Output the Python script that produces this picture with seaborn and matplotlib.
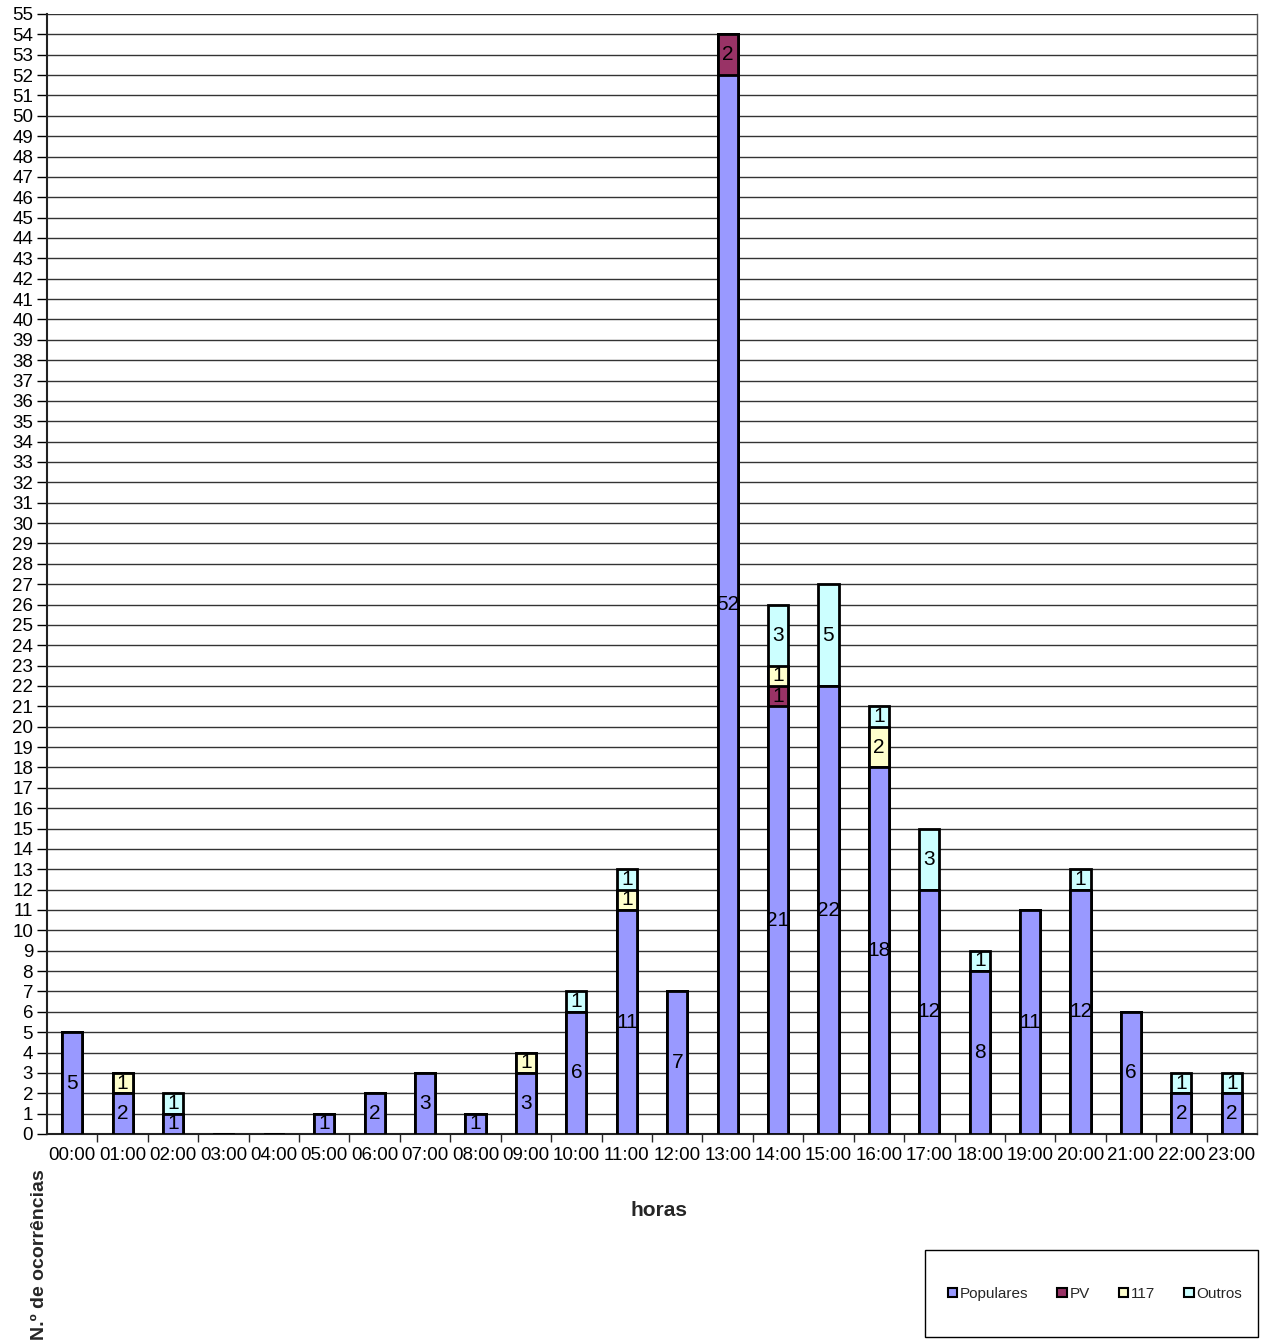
import matplotlib
matplotlib.use("Agg")
import matplotlib.pyplot as plt
from matplotlib.patches import Patch, Rectangle
import numpy as np
import pandas as pd
import seaborn as sns

# Hourly occurrence counts by source
horas = ["00:00", "01:00", "02:00", "03:00", "04:00", "05:00", "06:00", "07:00",
         "08:00", "09:00", "10:00", "11:00", "12:00", "13:00", "14:00", "15:00",
         "16:00", "17:00", "18:00", "19:00", "20:00", "21:00", "22:00", "23:00"]
populares = [5, 2, 1, 0, 0, 1, 2, 3, 1, 3, 6, 11, 7, 52, 21, 22, 18, 12, 8, 11, 12, 6, 2, 2]
pv        = [0, 0, 0, 0, 0, 0, 0, 0, 0, 0, 0, 0, 0, 2, 1, 0, 0, 0, 0, 0, 0, 0, 0, 0]
linha117  = [0, 1, 0, 0, 0, 0, 0, 0, 0, 1, 0, 1, 0, 0, 1, 0, 2, 0, 0, 0, 0, 0, 0, 0]
outros    = [0, 0, 1, 0, 0, 0, 0, 0, 0, 0, 1, 1, 0, 0, 3, 5, 1, 3, 1, 0, 1, 0, 1, 1]

series_names = ["Populares", "PV", "117", "Outros"]
series_colors = ["#9999FF", "#993366", "#FFFFCC", "#CCFFFF"]
series_values = [populares, pv, linha117, outros]

sns.set_theme(style="white")
plt.rcParams["font.family"] = ["Liberation Sans", "DejaVu Sans"]

fig = plt.figure(figsize=(12.65, 13.42), dpi=100)
W, H = 1265, 1342
ax = fig.add_axes([47 / W, 1 - 1134 / H, (1257 - 47) / W, (1134 - 14) / H])

vals = np.array(series_values, dtype=float)
cum = np.cumsum(vals, axis=0)

# Stacked bars: draw cumulative totals from the top layer down
for k in range(len(series_names) - 1, -1, -1):
    df = pd.DataFrame({"hora": horas, "valor": cum[k]})
    sns.barplot(data=df, x="hora", y="valor", order=horas, color=series_colors[k],
                saturation=1, width=0.4, edgecolor="black", linewidth=2,
                errorbar=None, ax=ax, zorder=3)

# Segment value labels
for k in range(len(series_names)):
    for i in range(len(horas)):
        v = vals[k, i]
        if v > 0:
            mid = cum[k, i] - v / 2
            ax.text(i, mid, f"{int(v)}", ha="center", va="center",
                    fontsize=15, color="black", zorder=5)

ax.set_xlim(-0.5, len(horas) - 0.5)
ax.set_ylim(0, 55)
ax.set_yticks(range(0, 56))
ax.tick_params(axis="y", labelsize=13.5, length=7, width=1, direction="out",
               left=True, pad=3, colors="black")
ax.set_xticks(range(len(horas)))
ax.set_xticklabels(horas, fontsize=13.5)
ax.tick_params(axis="x", which="major", length=0, pad=9, colors="black")
ax.set_xticks(np.arange(0.5, len(horas) - 0.5, 1), minor=True)
ax.tick_params(axis="x", which="minor", length=6, width=1, direction="out", bottom=True)

ax.yaxis.grid(True, color="#333333", linewidth=1)
ax.set_axisbelow(True)
for s in ["left", "bottom"]:
    ax.spines[s].set_color("#222222")
    ax.spines[s].set_linewidth(1.5)
ax.spines["right"].set_color("#555555")
ax.spines["right"].set_linewidth(1)
ax.spines["top"].set_visible(False)
ax.set_xlabel("")
ax.set_ylabel("")

fig.text(659 / W, 1 - 1210 / H, "horas", ha="center", va="center",
         fontsize=15, fontweight="bold")
fig.text(40 / W, 1 - 1255 / H, "N.º de ocorrências", ha="center", va="center",
         rotation=90, fontsize=14, fontweight="bold")

# Legend box
fig.patches.append(Rectangle((925 / W, 1 - 1337 / H), (1258 - 925) / W, (1337 - 1250) / H,
                             transform=fig.transFigure, facecolor="white",
                             edgecolor="black", linewidth=1))
handles = [Patch(facecolor=c, edgecolor="black", linewidth=1.5) for c in series_colors]
fig.legend(handles, series_names, loc="center", bbox_to_anchor=(1095 / W, 1 - 1294 / H),
           ncol=4, frameon=False, fontsize=11, handlelength=0.6, handleheight=0.6,
           handletextpad=0.2, columnspacing=1.9)

fig.savefig("out.png", dpi=100)
